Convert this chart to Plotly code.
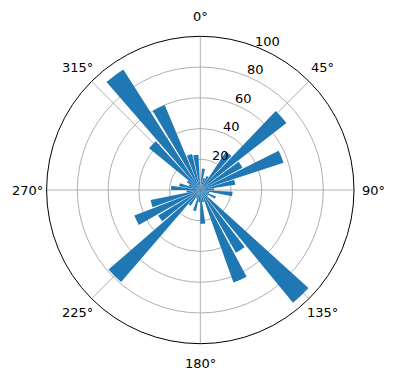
import math
import plotly.graph_objects as go

# Bar centre angles (degrees, clockwise from north)
theta_deg = [8.6, 18.5, 28.3, 38.1, 47.9, 57.8, 67.6, 77.4, 87.3, 97.1,
             106.9, 116.8, 126.6, 136.4, 146.3, 156.1, 165.9, 175.7, 185.6, 195.4,
             205.2, 215.1, 224.9, 234.7, 244.6, 254.4, 264.2, 274.1, 283.9, 293.7,
             303.6, 313.4, 323.2, 333.1, 342.9, 352.7]
radii = [14, 8, 10, 30, 71, 31, 57, 23, 9, 21,
         6, 11, 6, 95, 47, 64, 8, 22, 8, 14,
         6, 12, 79, 32, 46, 33, 9, 19, 14, 8,
         10, 43, 93, 60, 24, 23]
bar_width_deg = 8.4

angle_ticks = [0, 45, 90, 135, 180, 225, 270, 315]
angle_labels = ["0°", "45°", "90°", "135°", "180°", "225°", "270°", "315°"]
radial_ticks = [20, 40, 60, 80, 100]
radial_labels = ["20", "40", "60", "80", "100"]
r_max = 100
rlabel_angle = 22.5

W, H = 396, 380
cx, cy, R = 200.3, 190.0, 153.7
FONT = "DejaVu Sans"

fig = go.Figure(go.Barpolar(
    r=radii,
    theta=theta_deg,
    width=[bar_width_deg] * len(radii),
    marker=dict(color="#1f77b4", line=dict(width=0)),
    opacity=1,
))

annotations = []
# angular tick labels, centred a fixed pad outside the circle
for a, txt in zip(angle_ticks, angle_labels):
    rad = math.radians(a)
    px = cx + (R + 19.5) * math.sin(rad)
    py = cy - (R + 19.5) * math.cos(rad)
    annotations.append(dict(x=px / W, y=1 - py / H, xref="paper", yref="paper",
                            text=txt, showarrow=False, xanchor="center", yanchor="middle",
                            font=dict(family=FONT, size=13, color="black")))
# radial tick labels along the 22.5 degree direction
for v, txt in zip(radial_ticks, radial_labels):
    rad = math.radians(rlabel_angle)
    d = v / r_max * R
    px = cx + d * math.sin(rad) + 8
    py = cy - d * math.cos(rad) - 6.5
    annotations.append(dict(x=px / W, y=1 - py / H, xref="paper", yref="paper",
                            text=txt, showarrow=False, xanchor="center", yanchor="middle",
                            font=dict(family=FONT, size=13, color="black")))

fig.update_layout(
    width=W, height=H,
    margin=dict(l=0, r=0, t=0, b=0),
    paper_bgcolor="white",
    showlegend=False,
    font=dict(family=FONT, size=13, color="black"),
    annotations=annotations,
    polar=dict(
        domain=dict(x=[(cx - R) / W, (cx + R) / W],
                    y=[1 - (cy + R) / H, 1 - (cy - R) / H]),
        bgcolor="white",
        bargap=0,
        angularaxis=dict(
            rotation=90, direction="clockwise",
            tickmode="array", tickvals=angle_ticks,
            showticklabels=False,
            showgrid=True, gridcolor="#b0b0b0", gridwidth=0.8,
            showline=True, linecolor="black", linewidth=1,
            ticks="",
        ),
        radialaxis=dict(
            range=[0, r_max], angle=90 - rlabel_angle,
            tickmode="array", tickvals=radial_ticks,
            showticklabels=False,
            showgrid=True, gridcolor="#b0b0b0", gridwidth=0.8,
            showline=False, ticks="",
        ),
    ),
)

fig.write_html("out.html")
